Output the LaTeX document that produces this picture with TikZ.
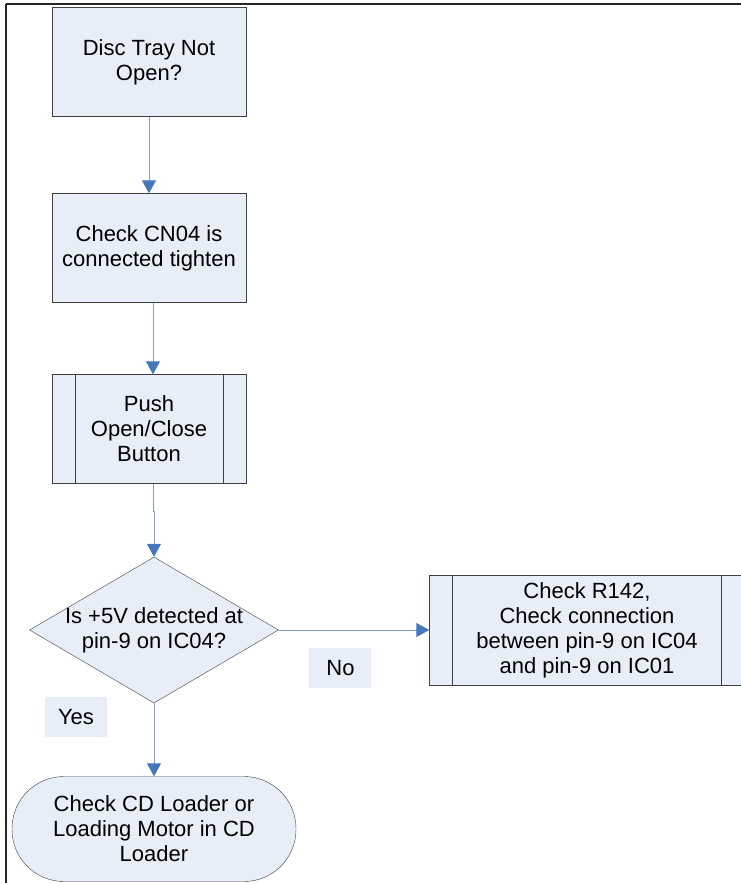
\documentclass[tikz,border=0pt]{standalone}
\usepackage{fontspec}
\setmainfont{Liberation Sans}
\usetikzlibrary{arrows.meta,positioning,shapes.geometric}
\definecolor{boxfill}{HTML}{E8EEF7}
\definecolor{boxline}{HTML}{404040}
\definecolor{flowline}{HTML}{7F9FD0}
\definecolor{flowhead}{HTML}{4677BD}

\begin{document}
\begin{tikzpicture}[x=1pt,y=-1pt,node distance=186pt,on grid,
    font=\fontsize{22}{25}\selectfont,
    proc/.style={rectangle,draw=boxline,fill=boxfill,minimum width=194pt,minimum height=109pt,align=center,inner sep=0pt},
    subproc/.style={proc,path picture={
        \draw[boxline] ([xshift=23pt]path picture bounding box.north west) -- ([xshift=23pt]path picture bounding box.south west)
            ([xshift=-23pt]path picture bounding box.north east) -- ([xshift=-23pt]path picture bounding box.south east);}},
    decision/.style={diamond,draw=boxline,fill=boxfill,minimum width=249pt,minimum height=146pt,inner sep=0pt},
    term/.style={rectangle,rounded corners=52pt,draw=boxline,fill=boxfill,minimum width=284pt,minimum height=105pt,align=center},
    tag/.style={fill=boxfill,minimum width=62pt,minimum height=40pt,inner sep=0pt},
    flow/.style={draw=flowline,line width=1pt,-{Triangle[length=13pt,width=14pt,color=flowhead]}}]
    \useasboundingbox (0,0) rectangle (741,883);
    % frame
    \draw[line width=2pt,black!85] (6,4) -- (760,4) (6,4) -- (6,900);

    \node[proc] (disc) at (149,62) {Disc Tray Not\\Open?};
    \node[proc] [below=186pt of disc] (cn04) {Check CN04 is\\connected tighten};
    \node[subproc] [below=181pt of cn04] (push) {Push\\Open/Close\\Button};
    \node[decision,label={[align=center]center:Is +5V detected at\\pin-9 on IC04?}]
        [below=201pt of push,xshift=5pt] (fivev) {};
    \node[subproc,minimum width=315pt,minimum height=110pt] [right=433pt of fivev] (r142)
        {Check R142,\\Check connection\\between pin-9 on IC04\\and pin-9 on IC01};
    \node[term] [below=199pt of fivev] (loader) {Check CD Loader or\\Loading Motor in CD\\Loader};

    \draw[flow] (disc) -- (cn04);
    \draw[flow] ([xshift=4pt]cn04.south) -- ([xshift=4pt]push.north);
    \draw[flow] ([xshift=4pt]push.south) -- ++(0,28) -| (fivev.north);
    \draw[flow] (fivev.east) -- node[tag,pos=0.41,yshift=-38pt] (no) {No} (r142.west);
    \draw[flow] (fivev.south) -- node[tag,pos=0.19,xshift=-78pt] (yes) {Yes} (loader.north);
\end{tikzpicture}
\end{document}
